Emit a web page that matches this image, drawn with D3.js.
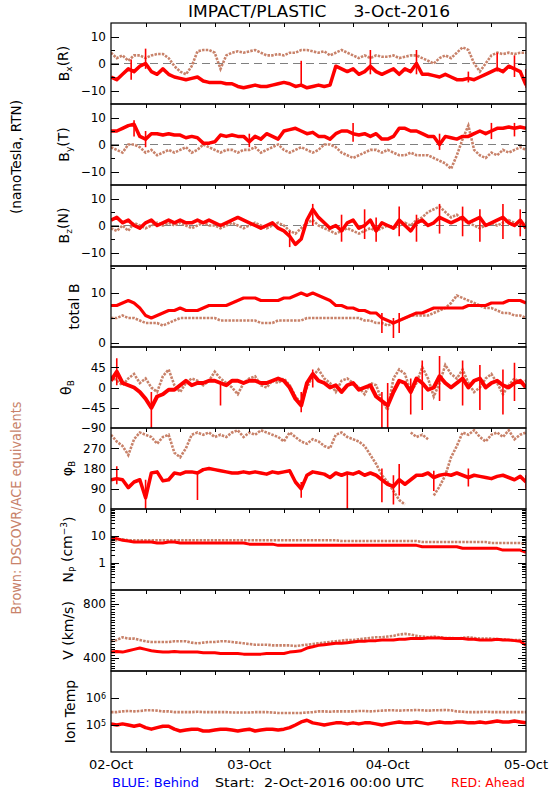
<!DOCTYPE html>
<html><head><meta charset="utf-8">
<script src="https://cdn.jsdelivr.net/npm/d3@7"></script>
<style>body{margin:0;background:#fff}svg{display:block}text{font-family:"DejaVu Sans",sans-serif}</style>
</head><body><svg id="c" width="550" height="800"></svg>
<script>
// hourly samples, 02-Oct-2016 00:00 UTC .. 05-Oct-2016 00:00 UTC (73 values)
const bxRed = [-5,-6,-4,-2,-3,-1,0,-3,-4,-2,-4,-5, -5.5,-6,-5.5,-5,-6.5,-7,-7,-7,-7.5,-7.5,-8.5,-9, -8.5,-8,-8.5,-8.5,-8,-7.5,-7,-7.5,-8.5,-8,-9,-8.5, -8,-8.5,-8,-1,-2,-3,-2,-4,-3,-1,-3,-4, -3,-2,-4,-2,-3,0,-4,-4,-4.5,-5,-4,-5, -6,-6,-5.5,-6,-5,-4,-3,-2,-3,-1,-2,-3, -8];
const bxBrown = [4,2,3,1,3,3,2,3,3.5,3.5,2,-1, -3,-4,-1,4.5,5,5,4,-2,3,4,4.5,4, 4.5,5,4,3,3,3.5,3,4,4,5,5,4.5, 4,4.5,3,4,5,4,3,2,3,2,3,2.5, 2.5,3,2,2.5,3,3,2,1,0,2,3,2, 4,6,5,0,-3,0,3,4,3.5,4,3.5,4, 4];
const byRed = [5,5,6,7,7.5,3,2,4,4,3.5,4,3.5, 3.5,2.5,3,2.5,0.5,0.5,1,3.5,3,3.5,3,3, 1,3,2,4,3,2,5,5.5,6,5,4,4.5, 3,3,2,4,5,5,4,3.5,4,3,4,2, 2,3,6,6,5,5,4,3,3,0,3,2.5, 2,3,3,4,5,4,5,6,6,6.5,6,6.5, 6];
const byBrown = [-1,-2,-3,0,0,-1,-3,-2,-4,-3,-2,-3, -2,-1,-3,-2,0,-1,-2,-3,-2,-2,-3,-2, -2,-1,-3,-2,-1,0,-2,-3,-2,-1,-2,-3, -2,0,0,-1,-3,-4,-5,-4,-3,-2,-2,-3, -2,-3,-4,-4,-3,-4,-4,-4,-5,-6,-7,-9, -4,2,7,-2,-4,-5,-3,-4,-2,-3,-2,-1, -2];
const bzRed = [2,3,1,2,0,-1,1,2,0,1,2,1, 2,1,1,2,1,2,1,0,1,2,3,2, 1,0,-1,0,1,-1,-2,-4,-7,-5,2,6, 3,1,-1,0,-2,1,2,-1,0,2,-2,1, 0,-1,2,0,-2,1,2,0,1,3,2,1, 2,3,1,2,3,0,1,2,3,1,0,2, -1];
const bzBrown = [-1,-2,0,-2,1,0,-1,0,1,0,1,0, 1,0,-1,0,1,0,0,-1,0,1,0,-1, 0,1,0,-1,0,1,0,-2,-3,-1,1,2, 0,-1,-2,-3,-2,-1,-2,-3,-2,-1,-2,-1, 0,-1,0,1,0,2,3,5,6,7,5,3, 4,2,1,0,-1,0,1,0,1,2,1,0, 1];
const btRed = [7.5,7.5,8,8.5,8,7,5.5,5,5.5,6,6.5,6.5, 7,6.5,6.5,6.5,7,7.5,7.5,7.5,7.5,8,8.5,9, 9,9,8.5,8.5,8.5,8.5,9,9,9.5,10,9.5,10, 9.5,9,8.5,7.5,7.5,7,7,6.5,6.5,6,6,5, 4.5,4,4.5,5,5.5,6,6,6.5,7,7,7,7, 7,7,7.5,7.5,7.5,7.5,8,8,8,8.5,8.5,8.5, 8];
const btBrown = [5,5,5.5,5,5,4.5,4,4,4,3.5,4,4.5, 5,5,5,5,5,5,5,4.5,4.5,4.5,4.5,4.5, 4.5,4.5,4,4,4,4.5,4.5,4.5,4.5,4.5,5,5, 5,5,5,5,5,5,5,5,4.5,4.5,4,4, 3.5,4,4.5,5,5.5,5.5,5.5,5.5,6,6.5,7,8, 9.5,9,8.5,8,7.5,7,7,6.5,6,6,5.5,5.5, 5];
const thRed = [15,35,10,5,0,-10,-25,-45,-20,-15,-5,-5, 5,15,5,10,10,15,15,10,5,15,15,10, 15,15,10,10,15,20,15,0,-25,-40,10,30, 15,10,0,5,-10,5,10,-5,0,5,-20,-30, -40,-10,15,10,-10,20,10,-5,0,25,10,0, 10,20,0,15,20,0,10,15,5,0,10,15, 0];
const thBrown = [25,15,5,20,30,10,20,0,-10,25,40,5, -10,10,20,15,5,15,35,20,10,0,-15,10, 20,25,5,0,15,10,20,5,-20,-35,0,25, 40,20,10,-10,15,20,10,0,-15,10,5,-30, -50,20,40,30,-10,10,45,20,-20,10,50,30, 20,40,10,-10,0,20,30,10,-15,5,20,10, 15];
const phRed = [130,135,130,95,120,130,50,160,165,125,130,160, 155,165,165,160,175,180,175,170,165,160,160,165, 160,165,160,155,165,160,165,170,120,90,150,165, 160,155,140,160,150,160,155,165,150,160,150,130, 110,100,130,110,130,150,150,160,140,150,155,150, 160,150,140,150,145,140,135,145,150,140,130,145, 120];
const phBrown = [330,300,280,240,310,340,330,320,290,320,330,250, 230,270,330,340,330,340,320,330,320,340,350,320, 340,330,350,340,330,320,300,340,320,300,290,310, 300,280,270,330,340,320,310,300,280,240,200,150, 120,80,40,20,340,320,330,310,60,100,150,230, 280,340,330,350,320,300,330,340,320,350,310,330, 340];
const npRed = [9,8,7,6.5,6,6,6,6,5.5,5.5,6,6, 5.5,5.5,5.5,5.5,5.5,5.5,5.5,5.5,5.5,5.5,5.5,5.5, 5,5,5,5,5,4.5,4.5,4.5,4.5,4.5,4.5,4.5, 4.5,4.5,4.5,4.5,4.5,4.5,4.5,4.5,4.5,4.5,4.5,4.5, 4.5,4.5,4.5,4.5,4.5,4.5,4,4,4,4,4,4, 4,3.5,3.5,3.5,3.5,3.5,3.5,3.5,3,3,3,3, 2.5];
const npBrown = [7,7,7.5,7,7,7,7,7,7,7,7,7, 7,7,7,7,7,7,7,7,7,7,7,7, 7,7,7,7,7,7,7,7,7,7,7,7, 7,7,7,7,6.5,6.5,6.5,6.5,6.5,6.5,6.5,6.5, 6.5,6.5,6.5,6.5,6.5,6.5,6,6,6,6,6,6, 6,6,6,6,6,6,5.5,5.5,5.5,5.5,5.5,5.5, 5];
const vRed = [440,445,440,450,460,470,460,450,445,440,440,445, 440,440,440,440,435,435,435,430,430,430,430,425, 425,425,425,430,430,430,430,440,445,450,470,480, 490,495,500,505,505,510,515,520,520,525,525,530, 530,530,535,535,540,540,540,545,545,545,540,540, 540,540,535,535,530,530,530,535,530,530,525,520, 490];
const vBrown = [520,530,550,540,540,530,520,515,515,515,515,520, 520,520,510,505,510,515,515,520,520,515,510,505, 500,495,495,495,490,490,490,490,485,490,495,500, 505,510,515,520,525,530,530,535,540,545,550,550, 555,560,570,575,570,560,555,550,555,550,545,545, 540,545,550,545,540,540,540,535,535,530,530,530, 525];
const tRed = [1.1e5,1e5,1.1e5,1e5,9e4,1e5,8e4,7e4,8e4,9e4,9e4,7e4, 6e4,6.5e4,7e4,7e4,6e4,6e4,6.5e4,7e4,7e4,6.5e4,6e4,6.5e4, 7e4,6e4,6.5e4,7e4,7e4,6.5e4,7e4,8e4,1e5,1.3e5,1.5e5,1.2e5, 1.1e5,1e5,1.1e5,1.2e5,1.2e5,1.1e5,1.2e5,1.1e5,1.2e5,1.2e5,1.1e5,1e5, 1.1e5,1.2e5,1.3e5,1.2e5,1.2e5,1.3e5,1.2e5,1.1e5,1.2e5,1.3e5,1.2e5,1.2e5, 1.3e5,1.3e5,1.2e5,1.2e5,1.3e5,1.2e5,1.3e5,1.4e5,1.3e5,1.3e5,1.4e5,1.3e5, 1.2e5];
const tBrown = [3e5,3e5,3.2e5,3.3e5,3.2e5,3.3e5,3.5e5,3.5e5,3.4e5,3.2e5,3.2e5,3e5, 3e5,3e5,3e5,3.1e5,3e5,3e5,3e5,3e5,3e5,2.9e5,2.9e5,2.9e5, 2.9e5,3e5,3e5,3e5,2.9e5,2.8e5,2.8e5,2.8e5,2.8e5,2.8e5,2.9e5,3e5, 3.2e5,3.2e5,3.1e5,3.2e5,3.2e5,3.2e5,3.2e5,3.3e5,3.3e5,3.2e5,3.3e5,3.4e5, 3.5e5,3.5e5,3.4e5,3.5e5,3.5e5,3.6e5,3.5e5,3.4e5,3.5e5,3.5e5,3.6e5,3.5e5, 3.2e5,3.1e5,3e5,3e5,3e5,3.1e5,3e5,3e5,3e5,3e5,3e5,3e5, 3e5];
// notable short excursions of the red trace: [hour, low, high]
const bxSpikes = [[3.5,-6,1.5],[6,-2,5.5],[33,-8,1],[45,-4,5],[53,-4,5],[62,-7,-3],[67,-3,4],[70,-5,3],[72,-9,-2]];
const bySpikes = [[4,3,9],[6,-1,5],[24,-1,4],[42,1,8],[57,-2,4],[66,2,8],[70,3,8]];
const bzSpikes = [[31,-8,-2],[35,0,8],[40,-6,4],[44,-5,6],[46,-6,3],[50,-4,7],[53,-6,4],[57,-3,8],[61,-4,7],[64,-6,6],[68,-5,8],[71,-4,6]];
const btSpikes = [[47,2,6],[49,1,5],[50,2,6]];
const thSpikes = [[1,5,65],[7,-90,-10],[19,-40,10],[33,-55,-10],[35,0,40],[47,-90,-10],[48,-90,10],[52,-60,20],[54,-50,60],[57,-30,70],[61,-40,60],[64,-50,50],[68,-60,40],[70,-30,55]];
const phSpikes = [[1,110,190],[6,0,130],[15,40,160],[33,50,120],[41,0,160],[47,30,180],[49,20,150],[50,60,200],[56,80,170],[62,100,180],[72,90,150]];
const dayLabels = ["02-Oct","03-Oct","04-Oct","05-Oct"];

const RED = "#ff0000", BROWN = "#c8826a";
const svg = d3.select("#c");
const L = 111, R = 526, TOP = 23, PH = 81;
const x = d3.scaleLinear([0, 72], [L, R]);
const hrs = d3.range(0, 73);

const panels = [
 {lab:"bx", red:bxRed, brown:bxBrown, sp:bxSpikes, dom:[-15,15], major:[-10,0,10], minor:[-5,5], labels:[[10,"10"],[0,"0"],[-10,"−10"]], zero:true, rw:3.5, tx:69},
 {lab:"by", red:byRed, brown:byBrown, sp:bySpikes, dom:[-15,15], major:[-10,0,10], minor:[-5,5], labels:[[10,"10"],[0,"0"],[-10,"−10"]], zero:true, rw:3.5, tx:69},
 {lab:"bz", red:bzRed, brown:bzBrown, sp:bzSpikes, dom:[-15,15], major:[-10,0,10], minor:[-5,5], labels:[[10,"10"],[0,"0"],[-10,"−10"]], zero:true, rw:3.5, tx:69},
 {lab:"bt", red:btRed, brown:btBrown, sp:btSpikes, dom:[-0.8,15.4], major:[0,10], minor:[5,15], labels:[[10,"10"],[0,"0"]], rw:3, tx:79},
 {lab:"th", red:thRed, brown:thBrown, sp:thSpikes, dom:[-90,90], major:[-45,0,45], minor:[], labels:[[45,"45"],[0,"0"],[-45,"−45"],[-90,"−90"]], rw:4, tx:71},
 {lab:"ph", red:phRed, brown:phBrown, sp:phSpikes, dom:[0,360], major:[90,180,270], minor:[], labels:[[270,"270"],[180,"180"],[90,"90"],[0,"0"]], wrap:true, rw:3.5, tx:72},
 {lab:"np", red:npRed, brown:npBrown, sp:[], dom:[0.1,100], log:true, major:[1,10], minorLog:true, labels:[[10,"10"],[1,"1"]], rw:3, tx:73},
 {lab:"v", red:vRed, brown:vBrown, sp:[], dom:[300,900], major:[400,800], minor:d3.range(300,901,20), labels:[[800,"800"],[400,"400"]], rw:3, tx:73},
 {lab:"t", red:tRed, brown:tBrown, sp:[], dom:[1e4,1e7], log:true, major:[1e5,1e6], labels:[[1e6,"10","6"],[1e5,"10","5"]], rw:3.5, tx:75}
];

const defs = svg.append("defs");

panels.forEach((p, i) => {
  const top = TOP + PH * i, bot = top + PH;
  const y = (p.log ? d3.scaleLog() : d3.scaleLinear()).domain(p.dom).range([bot, top]);
  const g = svg.append("g");
  defs.append("clipPath").attr("id", "cp" + i).append("rect").attr("x", L).attr("y", top).attr("width", R - L).attr("height", PH);
  const pg = g.append("g").attr("clip-path", `url(#cp${i})`);

  if (p.zero) pg.append("line").attr("x1", L).attr("x2", R).attr("y1", y(0)).attr("y2", y(0))
    .attr("stroke", "#808080").attr("stroke-width", 1).attr("stroke-dasharray", "8,5");

  const mk = arr => {
    const pts = hrs.map(h => [h, arr[h]]);
    const line = d3.line().x(d => x(d[0])).y(d => y(d[1]));
    if (!p.wrap) return line(pts);
    let segs = [], cur = [pts[0]];
    for (let k = 1; k < pts.length; k++) {
      if (Math.abs(pts[k][1] - pts[k - 1][1]) > 150) { segs.push(cur); cur = []; }
      cur.push(pts[k]);
    }
    segs.push(cur);
    return segs.map(s => s.length > 1 ? line(s) : `M${x(s[0][0])-1},${y(s[0][1])}h2`).join("");
  };

  pg.append("path").attr("d", mk(p.brown)).attr("fill", "none").attr("stroke", BROWN)
    .attr("stroke-width", 2.6).attr("stroke-dasharray", "2.5,1.2");
  pg.append("path").attr("d", mk(p.red)).attr("fill", "none").attr("stroke", RED)
    .attr("stroke-width", p.rw).attr("stroke-linejoin", "round");
  pg.selectAll("line.sp").data(p.sp).join("line").attr("class", "sp")
    .attr("x1", d => x(d[0])).attr("x2", d => x(d[0])).attr("y1", d => y(d[1])).attr("y2", d => y(d[2]))
    .attr("stroke", RED).attr("stroke-width", 1.6);

  g.append("rect").attr("x", L).attr("y", top).attr("width", R - L).attr("height", PH)
    .attr("fill", "none").attr("stroke", "#000").attr("stroke-width", 1.2);

  let minors = p.minor || [];
  if (p.minorLog) {
    minors = [];
    for (let e = -1; e < 2; e++) for (let m = 2; m < 10; m++) minors.push(m * Math.pow(10, e));
  }
  const tk = (v, len) => {
    const yy = Math.round(y(v)) + 0.5;
    g.append("line").attr("x1", L).attr("x2", L + len).attr("y1", yy).attr("y2", yy).attr("stroke", "#000");
    g.append("line").attr("x1", R - len).attr("x2", R).attr("y1", yy).attr("y2", yy).attr("stroke", "#000");
  };
  minors.filter(v => y(v) > top + 1 && y(v) < bot - 1).forEach(v => tk(v, 4));
  p.major.forEach(v => tk(v, 8));

  p.labels.forEach(l => {
    const t = g.append("text").attr("x", 106).attr("y", y(l[0])).attr("dy", "0.36em")
      .attr("text-anchor", "end").attr("font-size", 12).text(l[1]);
    if (l[2]) t.append("tspan").attr("dy", "-0.45em").attr("font-size", 8).text(l[2]);
  });

  d3.range(6, 72, 6).forEach(h => {
    const xx = Math.round(x(h)) + 0.5;
    g.append("line").attr("x1", xx).attr("x2", xx).attr("y1", top).attr("y2", top + 4).attr("stroke", "#000");
    if (i === panels.length - 1)
      g.append("line").attr("x1", xx).attr("x2", xx).attr("y1", bot - 4).attr("y2", bot).attr("stroke", "#000");
  });

  const cy = top + PH / 2;
  const tt = svg.append("text").attr("transform", `translate(${p.tx},${cy}) rotate(-90)`)
    .attr("text-anchor", "middle").attr("font-size", 14);
  const sub = (s) => tt.append("tspan").attr("font-size", 9).attr("dy", "0.3em").text(s);
  const back = (s) => tt.append("tspan").attr("dy", "-0.3em").text(s);
  if (p.lab === "bx") { tt.append("tspan").text("B"); sub("x"); back("(R)"); }
  if (p.lab === "by") { tt.append("tspan").text("B"); sub("y"); back("(T)"); }
  if (p.lab === "bz") { tt.append("tspan").text("B"); sub("z"); back("(N)"); }
  if (p.lab === "bt") tt.text("total B");
  if (p.lab === "th") { tt.append("tspan").text("θ"); sub("B"); }
  if (p.lab === "ph") { tt.append("tspan").text("φ"); sub("B"); }
  if (p.lab === "np") { tt.append("tspan").text("N"); sub("P"); back(" (cm"); tt.append("tspan").attr("font-size", 9).attr("dy", "-0.5em").text("−3"); tt.append("tspan").attr("dy", "0.5em").text(")"); }
  if (p.lab === "v") tt.text("V (km/s)");
  if (p.lab === "t") tt.text("Ion Temp");
});

svg.append("text").attr("x", 319).attr("y", 17).attr("text-anchor", "middle").attr("font-size", 16)
  .attr("textLength", 262).attr("lengthAdjust", "spacingAndGlyphs").style("white-space", "pre")
  .text("IMPACT/PLASTIC     3-Oct-2016");

dayLabels.forEach((d, k) => svg.append("text").attr("x", x(24 * k)).attr("y", 769)
  .attr("text-anchor", "middle").attr("font-size", 13).text(d));

svg.append("text").attr("transform", "translate(21,157) rotate(-90)").attr("text-anchor", "middle")
  .attr("font-size", 14).attr("textLength", 114).attr("lengthAdjust", "spacingAndGlyphs").text("(nanoTesla, RTN)");
svg.append("text").attr("transform", "translate(21,508) rotate(-90)").attr("text-anchor", "middle")
  .attr("font-size", 14).attr("fill", BROWN).attr("textLength", 213).attr("lengthAdjust", "spacingAndGlyphs")
  .text("Brown: DSCOVR/ACE equivalents");

svg.append("text").attr("x", 112).attr("y", 787).attr("font-size", 13).attr("fill", "#0000ff").text("BLUE: Behind");
svg.append("text").attr("x", 215).attr("y", 787).attr("font-size", 13).style("white-space", "pre")
  .attr("textLength", 209).attr("lengthAdjust", "spacingAndGlyphs").text("Start:  2-Oct-2016 00:00 UTC");
svg.append("text").attr("x", 451).attr("y", 787).attr("font-size", 13).attr("fill", RED)
  .attr("textLength", 74).attr("lengthAdjust", "spacingAndGlyphs").text("RED: Ahead");
</script></body></html>
